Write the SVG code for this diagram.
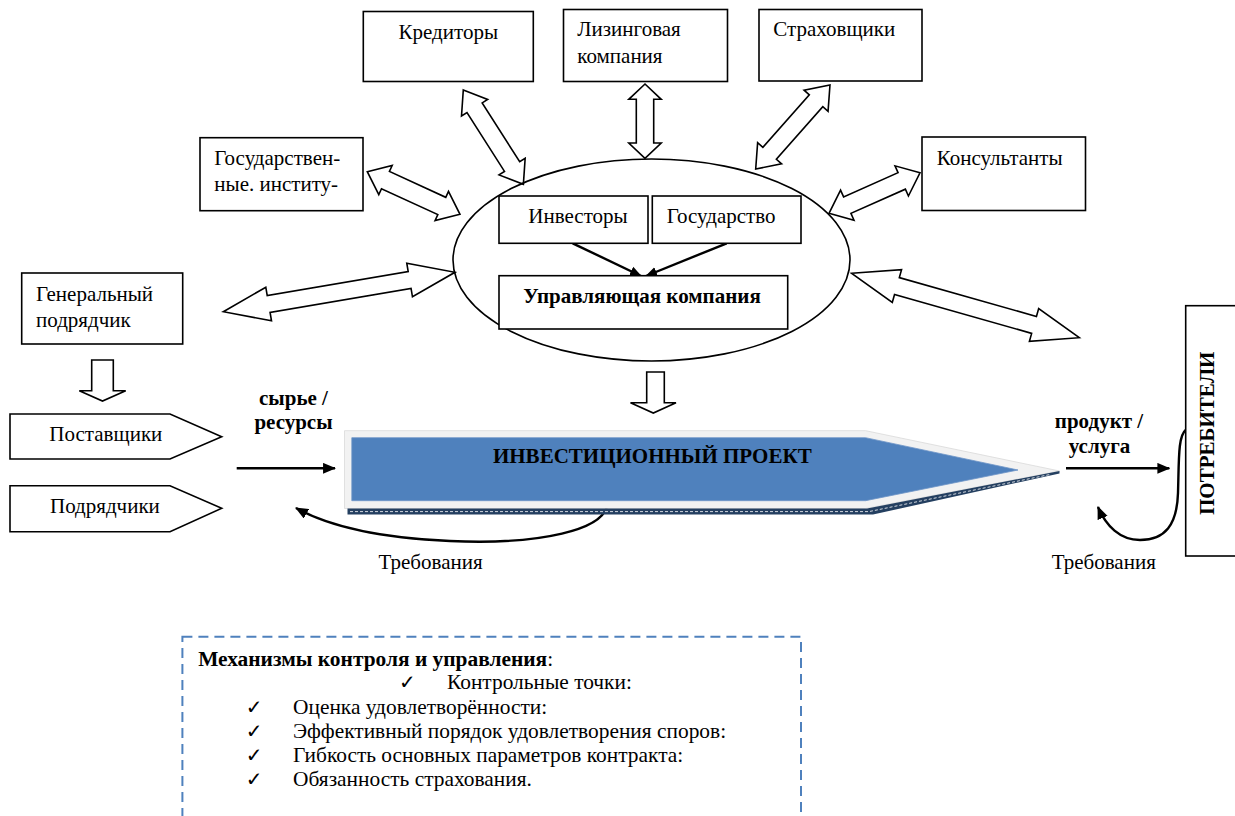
<svg xmlns="http://www.w3.org/2000/svg" width="1235" height="816" viewBox="0 0 1235 816">
<style>
  .box{fill:#fff;stroke:#000;stroke-width:1.6}
  .t{font-family:"Liberation Serif","Times New Roman",serif;font-size:21px;fill:#000}
  .m{font-size:21.4px}
  .b{font-weight:bold}
  .dbl{fill:#fff;stroke:#000;stroke-width:1.6;stroke-linejoin:miter}
  .ln{fill:none;stroke:#000;stroke-width:2.4}
  .chk{font-family:"DejaVu Sans",sans-serif;font-size:20px;fill:#000}
</style>
<defs>
  <marker id="ah" viewBox="0 0 12 10" refX="11" refY="5" markerWidth="13" markerHeight="11" markerUnits="userSpaceOnUse" orient="auto">
    <path d="M0,0 L12,5 L0,10 Z" fill="#000"/>
  </marker>
  <marker id="ahs" viewBox="0 0 12 10" refX="11" refY="5" markerWidth="12" markerHeight="11" markerUnits="userSpaceOnUse" orient="auto">
    <path d="M0,0 L12,5 L0,10 Z" fill="#000"/>
  </marker>
</defs>
<rect width="1235" height="816" fill="#fff"/>

<g id="connectors">
  <polygon class="dbl" transform="translate(367.3,171.7) rotate(24.7)" points="0,0 20,-16 20,-9.5 82,-9.5 82,-16 102,0 82,16 82,9.5 20,9.5 20,16"/>
  <polygon class="dbl" transform="translate(463.3,90) rotate(57.5)" points="0,0 21,-15.5 21,-9 90.8,-9 90.8,-15.5 111.8,0 90.8,15.5 90.8,9 21,9 21,15.5"/>
  <polygon class="dbl" transform="translate(645,84) rotate(90)" points="0,0 15.3,-16.2 15.3,-8.7 59,-8.7 59,-16.2 74.3,0 59,16.2 59,8.7 15.3,8.7 15.3,16.2"/>
  <polygon class="dbl" transform="translate(755.7,169) rotate(-48.5)" points="0,0 21,-16 21,-9 91.1,-9 91.1,-16 112.1,0 91.1,16 91.1,9 21,9 21,16"/>
  <polygon class="dbl" transform="translate(829,213.3) rotate(-24)" points="0,0 20,-16.5 20,-9 79.6,-9 79.6,-16.5 99.6,0 79.6,16.5 79.6,9 20,9 20,16.5"/>
  <polygon class="dbl" transform="translate(223.3,311.7) rotate(-9.65)" points="0,0 46,-17 46,-8.5 189,-8.5 189,-17 235,0 189,17 189,8.5 46,8.5 46,17"/>
  <polygon class="dbl" transform="translate(851.7,273.3) rotate(15.8)" points="0,0 47,-17 47,-8.8 189.5,-8.8 189.5,-17 236.5,0 189.5,17 189.5,8.8 47,8.8 47,17"/>
  <polygon class="dbl" points="91.7,360 113.3,360 113.3,390.7 125.7,390.7 102.5,401 79.3,390.7 91.7,390.7"/>
  <polygon class="dbl" points="646.7,372 664.3,372 664.3,402.7 676,402.7 653.3,413 630.5,402.7 646.7,402.7"/>
  <line class="ln" x1="572.7" y1="243.3" x2="641" y2="276" marker-end="url(#ahs)"/>
  <line class="ln" x1="726.7" y1="243.3" x2="646" y2="276" marker-end="url(#ahs)"/>
  <line class="ln" x1="236.7" y1="468.3" x2="335" y2="468.3" marker-end="url(#ah)"/>
  <line class="ln" x1="1066" y1="468.3" x2="1169.3" y2="468.3" marker-end="url(#ah)"/>
  <path class="ln" d="M607.5,503 C606,530 540,545 450,541 C380,538 330,527 296,508" marker-end="url(#ah)"/>
  <path class="ln" d="M1185.7,430 C1178,436 1179,460 1178,493 C1177,525 1165,540 1140,540 C1120,540 1106,526 1098,507" marker-end="url(#ah)"/>
</g>

<g id="kreditory">
  <rect class="box" x="363.3" y="11.5" width="170" height="70"/>
  <text class="t" x="448.3" y="39" text-anchor="middle">Кредиторы</text>
</g>
<g id="lizing">
  <rect class="box" x="563.5" y="9.5" width="164" height="72"/>
  <text class="t" x="577.3" y="36">Лизинговая</text>
  <text class="t" x="577.3" y="63">компания</text>
</g>
<g id="strakhovshchiki">
  <rect class="box" x="759" y="9.5" width="163" height="71.5"/>
  <text class="t" x="773.3" y="36">Страховщики</text>
</g>
<g id="gos-instituty">
  <rect class="box" x="200" y="137.7" width="163" height="73"/>
  <text class="t" x="214.3" y="165">Государствен-</text>
  <text class="t" x="214.3" y="191">ные. институ-</text>
</g>
<g id="konsultanty">
  <rect class="box" x="922" y="137" width="163.5" height="73.5"/>
  <text class="t" x="936.7" y="165">Консультанты</text>
</g>
<g id="gen-podryadchik">
  <rect class="box" x="21.7" y="273" width="161" height="71"/>
  <text class="t" x="36" y="301">Генеральный</text>
  <text class="t" x="36" y="327">подрядчик</text>
</g>
<g id="ellipse-group">
  <ellipse cx="651.5" cy="260" rx="198.5" ry="101" fill="none" stroke="#000" stroke-width="1.6"/>
</g>
<g id="investory">
  <rect class="box" x="499" y="196" width="149" height="47.3"/>
  <text class="t" x="528.3" y="223.3">Инвесторы</text>
</g>
<g id="gosudarstvo">
  <rect class="box" x="652.3" y="196" width="148.7" height="47.3"/>
  <text class="t" x="666.7" y="223.3">Государство</text>
</g>
<g id="upravl">
  <rect class="box" x="499" y="275.7" width="288.7" height="53.3"/>
  <text class="t b" x="523.3" y="302.7">Управляющая компания</text>
</g>
<g id="postavshchiki">
  <polygon class="box" points="10,414 170,414 221.7,436.7 170,459 10,459"/>
  <text class="t" x="49.3" y="440.7">Поставщики</text>
</g>
<g id="podryadchiki">
  <polygon class="box" points="10,485.7 170,485.7 221.7,508.3 170,531.7 10,531.7"/>
  <text class="t" x="50" y="512.7">Подрядчики</text>
</g>
<g id="syrie-label">
  <text class="t b" x="293.5" y="405" text-anchor="middle">сырье /</text>
  <text class="t b" x="293.5" y="429.3" text-anchor="middle">ресурсы</text>
</g>
<g id="invest-project">
  <polygon points="344.5,430.7 865.6,430.7 1059.5,471 865.6,508.5 344.5,508.5" fill="#f2f2f2" stroke="#d9d9d9" stroke-width="0.8"/>
  <polygon points="347.5,508.5 867,508.5 1059.5,471 1059.5,473.5 873,514.5 347.5,514.5" fill="#243f60"/>
  <polyline points="350,511.6 869,511.6 1050,474.5" fill="none" stroke="#fff" stroke-width="0.8" stroke-dasharray="3 2"/>
  <polygon points="351.8,437.7 865.6,437.7 1018,470 865.6,500.7 351.8,500.7" fill="#4f81bd" stroke="#6f95c8" stroke-width="0.8"/>
  <text class="t b" x="652.3" y="463.3" text-anchor="middle">ИНВЕСТИЦИОННЫЙ ПРОЕКТ</text>
</g>
<g id="produkt-label">
  <text class="t b" x="1099" y="428.3" text-anchor="middle">продукт /</text>
  <text class="t b" x="1099.5" y="453.3" text-anchor="middle">услуга</text>
</g>
<g id="potrebiteli">
  <rect class="box" x="1185.7" y="305.7" width="60" height="250.3"/>
  <text class="t b" transform="translate(1214,433.3) rotate(-90)" text-anchor="middle">ПОТРЕБИТЕЛИ</text>
</g>
<g id="trebovaniya-labels">
  <text class="t" x="378.5" y="569">Требования</text>
  <text class="t" x="1051.7" y="568.5">Требования</text>
</g>
<g id="mechanisms">
  <rect x="182.4" y="636.7" width="618.6" height="200" fill="none" stroke="#4f81bd" stroke-width="2" stroke-dasharray="10 6"/>
  <text class="t m" x="198.2" y="665.5"><tspan class="b">Механизмы контроля и управления</tspan>:</text>
  <text class="chk" x="399" y="689.3">✓</text>
  <text class="t m" x="447" y="689.3">Контрольные точки:</text>
  <text class="chk" x="245.7" y="714">✓</text>
  <text class="t m" x="293" y="714">Оценка удовлетворённости:</text>
  <text class="chk" x="245.7" y="737.5">✓</text>
  <text class="t m" x="293" y="737.5">Эффективный порядок удовлетворения споров:</text>
  <text class="chk" x="245.7" y="761.5">✓</text>
  <text class="t m" x="293" y="761.5">Гибкость основных параметров контракта:</text>
  <text class="chk" x="245.7" y="785.5">✓</text>
  <text class="t m" x="293" y="785.5">Обязанность страхования.</text>
</g>
</svg>
